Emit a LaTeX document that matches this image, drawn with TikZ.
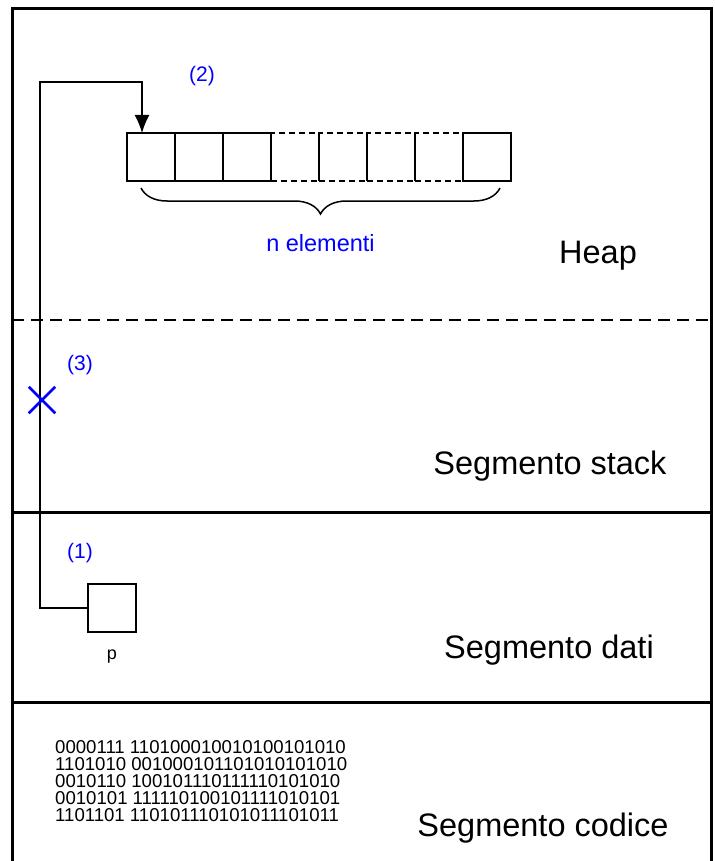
\documentclass[tikz,border=0pt]{standalone}
\usepackage{fontspec}
\setmainfont{Liberation Sans}
\usetikzlibrary{arrows.meta, positioning, decorations.pathreplacing, shapes.misc}
\definecolor{mblue}{HTML}{0000FF}
\tikzstyle{cell} = [rectangle, draw, line width=1.8pt, minimum width=48pt, minimum height=48pt, inner sep=0pt, outer sep=0pt]
\tikzstyle{ghost} = [cell, line width=1.5pt, dash pattern=on 6pt off 4pt]
\tikzstyle{wall} = [line width=3pt]
\tikzstyle{tag} = [text=mblue, font=\fontsize{21}{25}\selectfont]
\tikzstyle{segname} = [font=\fontsize{32.5}{38}\selectfont]
\tikzstyle{ptr} = [line width=1.5pt, -{Latex[length=18pt,width=15pt]}]

\begin{document}
\begin{tikzpicture}[x=1pt, y=-1pt, node distance=0pt]
  \useasboundingbox (0,0) rectangle (714,861);
  \draw [wall] (12,861) -- (12,9) -- (711,9) -- (711,861);
  \draw [line width=1.5pt, dash pattern=on 12pt off 7pt] (12,320) -- (711,320);
  \draw [wall] (12,512) -- (711,512);
  \draw [wall] (12,702) -- (711,702);

  \node (c1) [cell] at (151,157) {};
  \node (c2) [cell, right = of c1] {};
  \node (c3) [cell, right = of c2] {};
  \node (c4) [ghost, right = of c3] {};
  \node (c5) [ghost, right = of c4] {};
  \node (c6) [ghost, right = of c5] {};
  \node (c7) [ghost, right = of c6] {};
  \node (c8) [cell, right = of c7] {};
  \draw [decorate, decoration={brace, mirror, amplitude=26pt}, line width=1.5pt]
    ([xshift=-10pt, yshift=-7pt]c1.south) -- ([xshift=13pt, yshift=-7pt]c8.south)
    node (brc) [midway, below=42pt, tag, font=\fontsize{23.5}{28}\selectfont] {n elementi};

  \node (p) [cell] at (112,608) {};
  \node (plbl) [below = 14pt of p, font=\fontsize{18}{22}\selectfont] {p};
  \coordinate (bend) at (40,82);
  \draw [ptr] (p.west) -| (bend) -| ([xshift=-9pt]c1.north);

  \node (x3) [cross out, draw=mblue, line width=2.5pt, minimum size=24pt, inner sep=0pt] at (42,400) {};
  \node (t1) [tag] at (80,553) {(1)};
  \node (t2) [tag] at (202,76) {(2)};
  \node (t3) [tag] at (80,365) {(3)};

  \node (heap) [segname] at (598,256) {Heap};
  \node (stack) [segname] at (550,466) {Segmento stack};
  \node (dati) [segname] at (549,650) {Segmento dati};
  \node (codice) [segname] at (543,828) {Segmento codice};
  \node (bin) [anchor=north west, inner sep=0pt, align=left, font=\fontsize{18.6}{17}\selectfont] at (55,740.5)
    {0000111 110100010010100101010\\
     1101010 001000101101010101010\\
     0010110 100101110111110101010\\
     0010101 111110100101111010101\\
     1101101 110101110101011101011};
\end{tikzpicture}
\end{document}
